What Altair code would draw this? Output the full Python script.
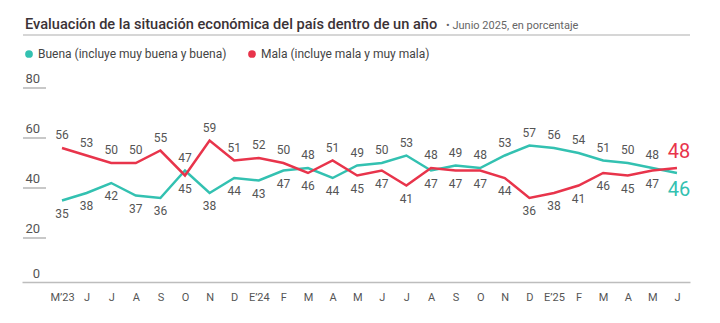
import json
import altair as alt
import pandas as pd

# ---- data ----
months = ["M’23", "J", "J", "A", "S", "O", "N", "D", "E’24", "F", "M", "A", "M",
          "J", "J", "A", "S", "O", "N", "D", "E’25", "F", "M", "A", "M", "J"]
buena = [35, 38, 42, 37, 36, 47, 38, 44, 43, 47, 48, 44, 49, 50, 53, 47, 49, 48, 53,
         57, 56, 54, 51, 50, 48, 46]
mala = [56, 53, 50, 50, 55, 45, 59, 51, 52, 50, 46, 51, 45, 47, 41, 48, 47, 47, 44,
        36, 38, 41, 46, 45, 47, 48]
series_names = ["Buena (incluye muy buena y buena)", "Mala (incluye mala y muy mala)"]
y_ticks = [0, 20, 40, 60, 80]
y_marks = [20, 40, 60, 80]

title_text = "Evaluación de la situación económica del país dentro de un año"
subtitle_text = "• Junio 2025, en porcentaje"

TEAL = "#33c1b1"
RED = "#e8344b"
FONT = "Roboto"

rows = []
n = len(months)
for i in range(n):
    for name, vals, other in ((series_names[0], buena, mala), (series_names[1], mala, buena)):
        rows.append({
            "idx": i,
            "serie": name,
            "valor": vals[i],
            "above": vals[i] >= other[i],
            "last": i == n - 1,
        })
df = pd.DataFrame(rows)

W, H = 668, 200
x_scale = alt.Scale(domain=[-1.626, 25.53], nice=False, zero=False)
y_scale = alt.Scale(domain=[0, 80], nice=False)
color_scale = alt.Scale(domain=series_names, range=[TEAL, RED])

label_expr = json.dumps(months) + "[datum.value]"

x_axis = alt.Axis(values=list(range(n)), labelExpr=label_expr, orient="bottom",
                  offset=-6, domainColor="#bdbdbd", domainWidth=1.5, ticks=False,
                  grid=False, labelPadding=9, labelFontSize=11, labelColor="#555555",
                  labelFont=FONT, labelOverlap=False, labelFlush=False, title=None)

base = alt.Chart(df).encode(
    x=alt.X("idx:Q", scale=x_scale, axis=x_axis),
    y=alt.Y("valor:Q", scale=y_scale, axis=None),
)

# short gray marks under the y labels (20..80)
marks_df = pd.DataFrame({"v": y_marks})
tick_rules = alt.Chart(marks_df).mark_rule(
    color="#c4c4c4", strokeWidth=1.5).encode(
    x=alt.XDatum(-1.585, scale=x_scale, axis=x_axis),
    x2=alt.X2Datum(-0.65),
    y=alt.Y("v:Q", scale=y_scale, axis=None))
tick_marks = alt.Chart(marks_df).mark_tick(
    orient="horizontal", color="#c4c4c4", thickness=1.5, size=23, opacity=1).encode(
    x=alt.value(12.5), y=alt.Y("v:Q", scale=y_scale, axis=None))

# y labels
ylab_df = pd.DataFrame({"v": y_ticks})
tick_labels = alt.Chart(ylab_df).transform_filter("datum.v > 0").mark_text(
    align="right", baseline="bottom", dy=-2, fontSize=13, color="#555555",
    font=FONT).encode(x=alt.value(18), y=alt.Y("v:Q", scale=y_scale, axis=None),
                      text="v:Q")
zero_label = alt.Chart(ylab_df).transform_filter("datum.v == 0").mark_text(
    align="right", baseline="bottom", dy=-7, fontSize=13, color="#555555",
    font=FONT).encode(x=alt.value(18), y=alt.Y("v:Q", scale=y_scale, axis=None),
                      text="v:Q")

lines = base.mark_line(strokeWidth=2.5).encode(
    color=alt.Color("serie:N", scale=color_scale,
                    legend=alt.Legend(orient="none", legendX=1, legendY=-40,
                                      direction="horizontal", title=None,
                                      symbolType="circle", symbolSize=60,
                                      symbolStrokeWidth=0, labelFontSize=12,
                                      labelColor="#444444", labelFont=FONT, labelLimit=0,
                                      labelOffset=3, columnPadding=19)),
)

lab_above = base.transform_filter("datum.above && !datum.last").mark_text(
    dy=-13, fontSize=12, color="#555555", font=FONT).encode(text="valor:Q")
lab_below = base.transform_filter("!datum.above && !datum.last").mark_text(
    dy=13, fontSize=12, color="#555555", font=FONT).encode(text="valor:Q")

last_above = base.transform_filter("datum.above && datum.last").mark_text(
    dy=-16, dx=2, fontSize=20, font=FONT).encode(
    text="valor:Q", color=alt.Color("serie:N", scale=color_scale, legend=None))
last_below = base.transform_filter("!datum.above && datum.last").mark_text(
    dy=17, dx=2, fontSize=20, font=FONT).encode(
    text="valor:Q", color=alt.Color("serie:N", scale=color_scale, legend=None))

title = alt.Chart(pd.DataFrame({"t": [title_text]})).mark_text(
    align="left", baseline="alphabetic", fontSize=14.6, fontWeight=500,
    color="#3b3236", font=FONT).encode(x=alt.value(3), y=alt.value(-59), text="t:N")
subtitle = alt.Chart(pd.DataFrame({"t": [subtitle_text]})).mark_text(
    align="left", baseline="alphabetic", fontSize=11, color="#666666",
    font=FONT).encode(x=alt.value(424), y=alt.value(-59), text="t:N")
title_rule = alt.Chart(pd.DataFrame({"t": [0]})).mark_rule(
    color="#c8c8c8", strokeWidth=1.5).encode(
    x=alt.value(1), x2=alt.value(668), y=alt.value(-53))

chart = alt.layer(
    lines, title_rule, title, subtitle, tick_rules, tick_marks, lab_above, lab_below,
    last_above, last_below, tick_labels, zero_label
).properties(
    width=W, height=H,
    padding={"left": 22, "right": 30, "top": 88, "bottom": 35},
    autosize=alt.AutoSizeParams(type="none"),
    background="white",
).configure_view(stroke=None)

chart.save("out.html", embed_options={"renderer": "svg", "actions": False})
